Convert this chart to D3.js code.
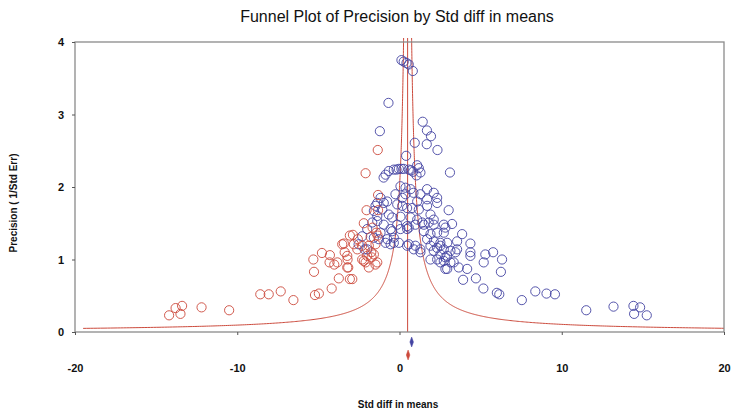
<!DOCTYPE html>
<html>
<head>
<meta charset="utf-8">
<script src="https://cdn.jsdelivr.net/npm/d3@7"></script>
<style>
  html, body { margin: 0; padding: 0; background: #fff; }
  svg { display: block; }
  text { font-family: "Liberation Sans", Arial, sans-serif; }
</style>
</head>
<body>
<svg id="chart" width="736" height="415"></svg>
<script>
const chartTitle = "Funnel Plot of Precision by Std diff in means";
const xTitle = "Std diff in means";
const yTitle = "Precision  ( 1/Std Err)";
const xTicks = [-20, -10, 0, 10, 20];
const yTicks = [0, 1, 2, 3, 4];

// observed studies [std diff in means, precision]
const observedStudies = [
[0.12,3.75],[0.26,3.73],[0.43,3.71],[0.57,3.69],[0.82,3.60],
[-0.68,3.16],[-1.21,2.77],[1.43,2.90],[1.69,2.78],[1.94,2.70],[1.68,2.59],[0.94,2.61],[2.34,2.51],[0.41,2.43],[1.09,2.30],[3.11,2.20],
[-0.86,2.17],[-0.66,2.22],[-0.35,2.24],[-0.04,2.25],[0.26,2.25],[0.57,2.24],[0.84,2.21],[1.05,2.16],[1.19,2.26],[1.29,2.20],[-0.98,2.13],[-0.18,2.24],[0.12,2.25],[0.71,2.23],
[0.06,2.01],[0.37,1.99],[0.68,1.97],[-0.25,1.90],[0.17,1.85],[-0.14,1.76],[0.17,1.74],[0.47,1.71],[0.78,1.71],[1.19,1.69],[1.70,1.74],[1.29,1.90],[1.70,1.97],[2.11,1.92],[2.32,1.85],[2.32,1.78],[1.70,1.83],[1.09,1.80],[-1.17,1.85],[-1.37,1.78],[-0.76,1.80],[-1.06,1.69],[-1.58,1.67],[-0.66,1.62],[-0.45,1.58],[0.06,1.59],[0.68,1.58],[1.09,1.55],[1.91,1.62],[2.11,1.55],[3.03,1.68],[2.73,1.48],[2.11,1.48],[1.50,1.48],[0.47,1.46],[-0.14,1.48],[-0.97,1.48],[-1.37,1.53],[0.37,1.90],[0.86,1.92],
[3.24,1.49],[3.86,1.35],[4.37,1.22],[3.55,1.25],[3.45,1.10],[4.37,1.10],[5.29,1.07],[5.77,1.10],[6.32,1.00],[5.19,0.96],[6.25,0.83],[3.92,0.72],[4.71,0.74],[5.17,0.60],[6.00,0.54],[6.15,0.52],[7.54,0.44],[8.37,0.56],[9.06,0.53],[9.58,0.52],[11.51,0.30],[13.19,0.35],[14.42,0.36],[14.46,0.25],[14.83,0.34],[15.24,0.23],
[4.17,0.87],[2.94,0.87],[2.52,0.96],[1.91,1.00],[2.83,1.03],[3.34,0.96],[2.11,1.12],[2.52,1.19],[1.70,1.28],[1.29,1.10],[3.65,0.89],[4.37,1.05],[2.83,1.44],[2.73,1.37],
[-0.45,1.39],[0.06,1.42],[0.57,1.44],[0.98,1.48],[1.40,1.51],[1.80,1.51],[1.50,1.39],[1.91,1.35],[2.32,1.37],[2.11,1.25],[2.52,1.23],[2.94,1.23],[3.55,1.14],[1.91,1.19],[2.32,1.16],[2.73,1.14],[3.14,1.12],[2.52,1.07],[2.94,1.05],[2.32,1.00],[2.73,0.98],[3.14,0.96],[2.83,0.87],
[0.47,1.19],[0.98,1.19],[1.29,1.14],[-0.35,1.23],[-0.04,1.23],[-0.55,1.21],[-2.52,1.21],[-2.15,1.14],[-1.17,1.37],[-0.76,1.28],[-0.35,1.30],[-1.27,1.28],[0.57,1.21],[0.88,1.14],
[-1.48,1.74],[-0.97,1.78],[-1.37,1.60],[-1.68,1.51],[-1.99,1.42],[-2.30,1.32],[-1.58,1.30],[-1.99,1.14],[-0.86,1.23],[-0.55,1.42],[0.47,1.42]
];

// imputed studies (trim and fill) [std diff in means, precision]
const imputedStudies = [
[-14.2,0.23],[-13.8,0.33],[-13.4,0.36],[-13.5,0.25],[-12.2,0.34],[-10.5,0.30],[-8.58,0.52],[-8.06,0.52],[-7.32,0.56],[-6.54,0.44],[-5.21,0.51],[-4.97,0.53],[-4.18,0.60],[-3.74,0.74],[-5.27,0.83],[-5.31,1.00],[-4.78,1.09],[-4.29,1.06],[-4.31,0.96],[-4.02,0.93],[-3.43,1.22],[-3.38,1.10],[-3.20,1.00],[-3.22,0.89],[-3.06,0.73],[-3.06,1.33],[-2.09,2.19],[-1.34,2.51],[-1.32,1.89],[-2.03,1.68],[-1.32,1.68],[-2.20,1.50],[-1.66,1.44],[-1.43,1.37],[-1.78,1.31],[-1.35,1.33],[-2.87,1.34],[-2.57,1.28],[-2.81,1.21],[-2.60,1.14],[-2.30,1.19],[-1.89,1.19],[-1.74,1.10],[-1.99,1.05],[-2.30,1.00],[-2.09,0.96],[-1.72,1.03],[-1.37,0.96],[-1.89,0.89],[-3.16,0.89],[-2.91,0.73],[-3.83,0.96],[-1.48,1.21],[-1.58,1.07],[-2.20,0.98],[-1.48,0.93],[-3.53,1.21],[-3.22,1.05]
];

// summary estimates [estimate, lower, upper]
const observedSummary = [0.75, 0.64, 0.86];
const adjustedSummary = [0.53, 0.42, 0.64];
const funnelCenter = 0.5;
const funnelZ = 1.0;

const blue = "#4343a2";
const red = "#cc4a3c";

const svg = d3.select("#chart");
const L = 75, R = 724, T = 42, B = 332;
const x = d3.scaleLinear().domain([-20, 20]).range([L, R]);
const y = d3.scaleLinear().domain([0, 4]).range([B, T]);

// title
svg.append("text").attr("x", 397).attr("y", 22).attr("text-anchor", "middle")
  .attr("font-size", 16).attr("fill", "#111").text(chartTitle);

// clip
svg.append("clipPath").attr("id", "clip").append("rect")
  .attr("x", L).attr("y", T - 4).attr("width", R - L).attr("height", B - T + 4);

// funnel lines
const g = svg.append("g").attr("clip-path", "url(#clip)");
const precs = d3.range(0, 400).map(i => 0.05 * Math.pow(4.2 / 0.05, i / 399));
const leftLine = precs.map(p => [funnelCenter - funnelZ / p, p]);
const rightLine = precs.map(p => [funnelCenter + funnelZ / p, p]);
const line = d3.line().x(d => x(d[0])).y(d => y(d[1]));
g.append("path").attr("d", line(leftLine)).attr("fill", "none").attr("stroke", red).attr("stroke-width", 1);
g.append("path").attr("d", line(rightLine)).attr("fill", "none").attr("stroke", red).attr("stroke-width", 1);
g.append("line").attr("x1", x(funnelCenter)).attr("x2", x(funnelCenter))
  .attr("y1", y(0)).attr("y2", y(4.2)).attr("stroke", red).attr("stroke-width", 1);

// points
g.selectAll("circle.obs").data(observedStudies).join("circle").attr("class", "obs")
  .attr("cx", d => x(d[0])).attr("cy", d => y(d[1])).attr("r", 4.6)
  .attr("fill", "none").attr("stroke", blue).attr("stroke-width", 0.9);
g.selectAll("circle.imp").data(imputedStudies).join("circle").attr("class", "imp")
  .attr("cx", d => x(d[0])).attr("cy", d => y(d[1])).attr("r", 4.6)
  .attr("fill", "none").attr("stroke", red).attr("stroke-width", 0.9);

// frame
svg.append("rect").attr("x", L).attr("y", T).attr("width", R - L).attr("height", B - T)
  .attr("fill", "none").attr("stroke", "#8a8a8a").attr("stroke-width", 1.3);

// axes
const xAxis = d3.axisBottom(x).tickValues(xTicks).tickSize(3).tickPadding(29).tickFormat(d => String(d));
const yAxis = d3.axisLeft(y).tickValues(yTicks).tickSize(3).tickPadding(8).tickFormat(d => String(d));
const gx = svg.append("g").attr("transform", `translate(0,${B})`).call(xAxis);
const gy = svg.append("g").attr("transform", `translate(${L},0)`).call(yAxis);
[gx, gy].forEach(a => {
  a.select(".domain").remove();
  a.selectAll(".tick line").attr("stroke", "#555");
  a.selectAll(".tick text").attr("font-size", 11).attr("font-weight", "bold")
    .attr("fill", "#111").attr("font-family", "Liberation Sans, Arial, sans-serif");
});

// diamonds
function diamond(s, cy, color) {
  const h = 5;
  const pts = [[x(s[1]), cy], [x(s[0]), cy - h], [x(s[2]), cy], [x(s[0]), cy + h]];
  svg.append("path").attr("d", "M" + pts.map(p => p.join(",")).join("L") + "Z")
    .attr("fill", color).attr("stroke", color).attr("stroke-width", 0.5);
}
diamond(observedSummary, 342, blue);
diamond(adjustedSummary, 355, red);

// axis titles
svg.append("text").attr("x", 398).attr("y", 408).attr("text-anchor", "middle")
  .attr("font-size", 10).attr("font-weight", "bold").attr("fill", "#111").text(xTitle);
svg.append("text").attr("transform", "translate(17,203) rotate(-90)").attr("text-anchor", "middle")
  .attr("font-size", 10).attr("font-weight", "bold").attr("fill", "#111").text(yTitle);
</script>
</body>
</html>
